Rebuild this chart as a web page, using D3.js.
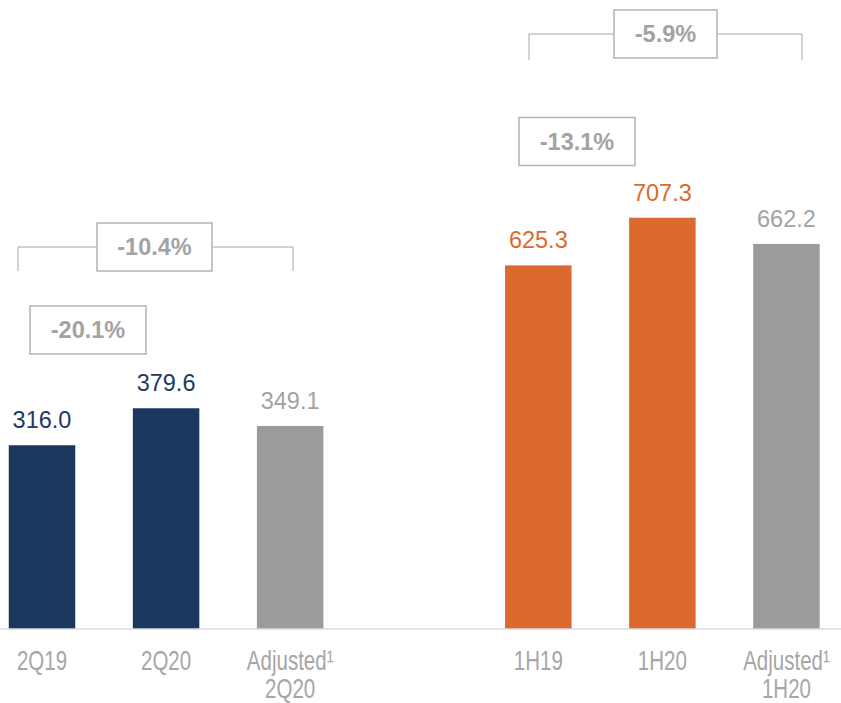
<!DOCTYPE html>
<html>
<head>
<meta charset="utf-8">
<script src="https://cdn.jsdelivr.net/npm/d3@7"></script>
<style>
  html, body { margin: 0; padding: 0; background: #fff; }
  svg { display: block; }
</style>
</head>
<body>
<svg id="chart" width="841" height="703"></svg>
<script>
// data
const categories = ["2Q19", "2Q20", "Adjusted¹|2Q20", "", "1H19", "1H20", "Adjusted¹|1H20"];
const values     = [316.0, 379.6, 349.1, null, 625.3, 707.3, 662.2];
const series     = ["quarter", "quarter", "adjusted", null, "half", "half", "adjusted"];
const changes    = ["-20.1%", "-10.4%", "-13.1%", "-5.9%"];

const barColor   = { quarter: "#1c375e", half: "#dc6a2f", adjusted: "#9a9b9d" };
const labelColor = { quarter: "#1f3864", half: "#dc6a2f", adjusted: "#a3a3a3" };

var width = 841, height = 703;
var baseY = 629;

var svg = d3.select("#chart");

var x = d3.scaleBand()
  .domain(d3.range(categories.length))
  .range([8.75, 819.7])
  .paddingInner(0.464)
  .paddingOuter(0);

var y = d3.scaleLinear()
  .domain([0, 700])
  .range([baseY, baseY - 700 * 0.5815]);

var rows = categories.map(function(c, i) {
  return { cat: c, value: values[i], series: series[i], i: i };
}).filter(function(d) { return d.value !== null; });

// bars
svg.selectAll(".bar")
  .data(rows)
  .enter()
  .append("rect")
  .attr("class", "bar")
  .attr("x", d => x(d.i))
  .attr("y", d => y(d.value))
  .attr("width", x.bandwidth())
  .attr("height", d => y(0) - y(d.value))
  .attr("fill", d => barColor[d.series]);

// value labels
svg.selectAll(".vlabel")
  .data(rows)
  .enter()
  .append("text")
  .attr("class", "vlabel")
  .attr("x", d => x(d.i) + x.bandwidth() / 2)
  .attr("y", d => y(d.value) - 17)
  .attr("text-anchor", "middle")
  .attr("font-family", "Liberation Sans, Arial, sans-serif")
  .attr("font-size", 23.5)
  .attr("fill", d => labelColor[d.series])
  .text(d => d3.format(".1f")(d.value));

// baseline
svg.append("line")
  .attr("x1", 0).attr("x2", width)
  .attr("y1", baseY).attr("y2", baseY)
  .attr("stroke", "#d6dce5")
  .attr("stroke-width", 1.5);

// category labels (narrow look: squeeze horizontally)
var cl = svg.selectAll(".clabel")
  .data(rows)
  .enter()
  .append("g")
  .attr("class", "clabel")
  .attr("transform", d => "translate(" + (x(d.i) + x.bandwidth() / 2) + ",0) scale(0.76,1)")
  .append("text")
  .attr("text-anchor", "middle")
  .attr("font-family", "Liberation Sans, Arial, sans-serif")
  .attr("font-size", 27)
  .attr("fill", "#a6a6a6");

cl.each(function(d) {
  var lines = d.cat.split("|");
  var t = d3.select(this);
  lines.forEach(function(ln, k) {
    t.append("tspan")
      .attr("x", 0)
      .attr("y", 670 + k * 28)
      .text(ln);
  });
});

// change annotations (layout only)
var notes = [
  { cx: 88,    cy: 330,   w: 116, bracket: null },
  { cx: 154.5, cy: 247,   w: 115, bracket: [18, 293, 271] },
  { cx: 577,   cy: 141.5, w: 116, bracket: null },
  { cx: 665.5, cy: 34,    w: 103, bracket: [529, 802, 60] }
];

notes.forEach(function(n, i) {
  var g = svg.append("g");
  if (n.bracket) {
    g.append("path")
      .attr("d", "M" + n.bracket[0] + "," + n.bracket[2] + "V" + n.cy +
                 "H" + n.bracket[1] + "V" + n.bracket[2])
      .attr("fill", "none")
      .attr("stroke", "#a6a6a6")
      .attr("stroke-width", 1);
  }
  g.append("rect")
    .attr("x", n.cx - n.w / 2)
    .attr("y", n.cy - 24)
    .attr("width", n.w)
    .attr("height", 48)
    .attr("fill", "#fff")
    .attr("stroke", "#b3b3b3")
    .attr("stroke-width", 1.5);
  g.append("text")
    .attr("x", n.cx)
    .attr("y", n.cy + 8)
    .attr("text-anchor", "middle")
    .attr("font-family", "Liberation Sans, Arial, sans-serif")
    .attr("font-weight", "bold")
    .attr("font-size", 23.5)
    .attr("fill", "#a3a3a3")
    .text(changes[i]);
});
</script>
</body>
</html>
